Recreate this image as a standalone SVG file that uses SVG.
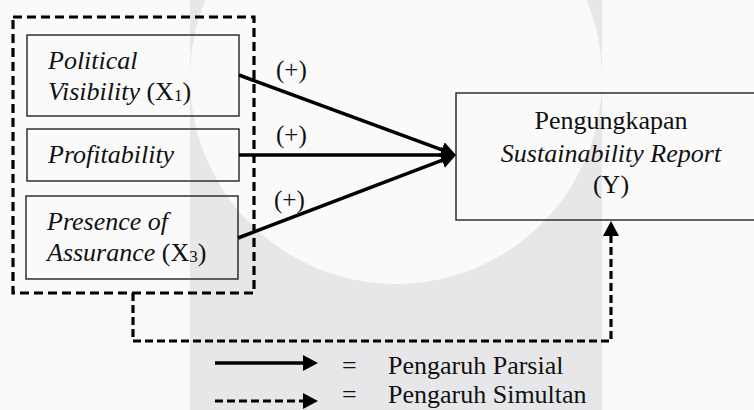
<svg xmlns="http://www.w3.org/2000/svg" width="754" height="410" viewBox="0 0 754 410">
<defs>
<style>
.t{font-family:"Liberation Serif","Times New Roman",serif;font-size:26px;fill:#111}
.i{font-style:italic}
.lbl{font-family:"Liberation Serif","Times New Roman",serif;font-size:25px;fill:#111}
.box{fill:none;stroke:#222;stroke-width:1.4}
.solid{fill:none;stroke:#000;stroke-width:3.5}
.dash{fill:none;stroke:#000;stroke-width:3.2;stroke-dasharray:8 4}
</style>
<marker id="ah" markerUnits="userSpaceOnUse" markerWidth="16" markerHeight="16" refX="11" refY="8" orient="auto">
<path d="M0,0 L15,8 L0,16 z" fill="#000" stroke="none"/>
</marker>
</defs>
<g id="background">
<rect x="0" y="0" width="754" height="410" fill="#fafafa"/>
<rect x="190" y="0" width="412" height="410" fill="#e7e7e9"/>
<circle cx="396" cy="78" r="206" fill="#fafafa"/>
</g>
<g id="group-x">
<rect x="13" y="17" width="241" height="276" fill="none" stroke="#000" stroke-width="3.2" stroke-dasharray="9 5"/>
</g>
<g id="node-x1">
<rect class="box" x="27" y="35" width="212" height="81"/>
<text class="t i" x="48" y="69">Political</text>
<text class="t" x="48" y="100"><tspan class="i">Visibility</tspan> (X<tspan font-size="17" dy="1">1</tspan><tspan dy="-1">)</tspan></text>
</g>
<g id="node-x2">
<rect class="box" x="27" y="129" width="212" height="52"/>
<text class="t i" x="48" y="163">Profitability</text>
</g>
<g id="node-x3">
<rect class="box" x="26" y="196" width="212" height="83"/>
<text class="t i" x="47" y="230">Presence of</text>
<text class="t" x="47" y="261"><tspan class="i">Assurance</tspan> (X<tspan font-size="17" dy="1">3</tspan><tspan dy="-1">)</tspan></text>
</g>
<g id="node-y">
<rect class="box" x="456" y="93" width="302" height="127"/>
<text class="t" x="611" y="129" text-anchor="middle">Pengungkapan</text>
<text class="t i" x="611" y="162" text-anchor="middle">Sustainability Report</text>
<text class="t" x="611" y="193" text-anchor="middle">(Y)</text>
</g>
<g id="connectors">
<path class="solid" d="M239,75 L452.2,153.6" marker-end="url(#ah)"/>
<path class="solid" d="M239,155 L452,155" marker-end="url(#ah)"/>
<path class="solid" d="M238,238 L452.3,156.4" marker-end="url(#ah)"/>
<path class="dash" d="M133,293 V341 H611 V225" marker-end="url(#ah)"/>
<text class="lbl" x="276" y="78">(+)</text>
<text class="lbl" x="276" y="143">(+)</text>
<text class="lbl" x="274" y="208">(+)</text>
</g>
<g id="legend">
<path class="solid" d="M215,363 L314,363" marker-end="url(#ah)"/>
<path class="dash" d="M215,401 L314,401" marker-end="url(#ah)"/>
<text class="t" x="342" y="374">=</text>
<text class="t" x="342" y="403">=</text>
<text class="t" x="388" y="374">Pengaruh Parsial</text>
<text class="t" x="388" y="403">Pengaruh Simultan</text>
</g>
</svg>
